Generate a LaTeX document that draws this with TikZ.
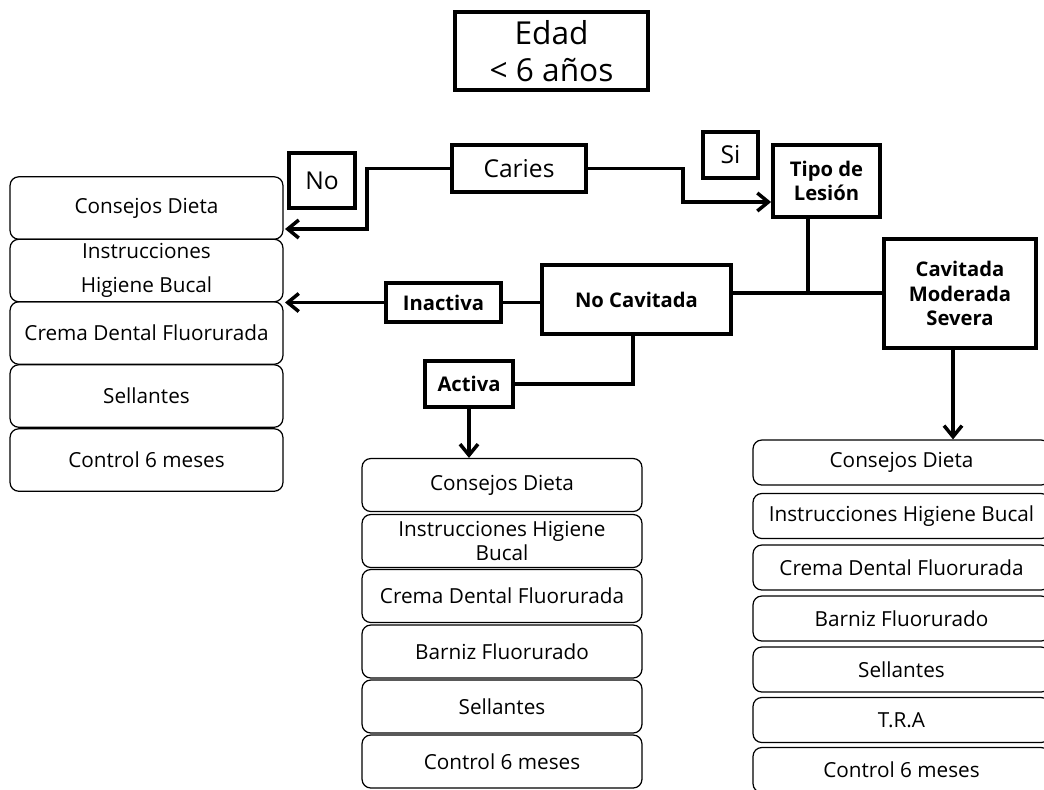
\documentclass[tikz,border=0pt]{standalone}
\usepackage{fontspec}
\setmainfont{Open Sans}
\usetikzlibrary{arrows.meta}

\begin{document}
\begin{tikzpicture}[x=0.02cm,y=-0.02cm,
  caja/.style={draw,line width=2.2pt,align=center,inner sep=2pt,font=\fontsize{14}{16}\selectfont},
  bcaja/.style={caja,font=\bfseries\fontsize{11.5}{14}\selectfont},
  item/.style={draw,line width=0.7pt,rounded corners=5pt,align=center,inner sep=1pt,font=\fontsize{11.8}{13.5}\selectfont},
  litem/.style={item,minimum width=5.46cm,minimum height=1.25cm},
  mitem/.style={item,minimum width=5.6cm,minimum height=1.06cm},
  ritem/.style={item,minimum width=5.94cm,minimum height=0.9cm},
  linea/.style={line width=2pt},
  flecha/.style={linea,-{Straight Barb[length=2.2mm,width=3.6mm]}}]
\clip (0,0) rectangle (1044,789);
% decision boxes
\node[caja,minimum width=3.86cm,minimum height=1.56cm,font=\fontsize{18}{21}\selectfont](edad) at (551.5,51){Edad\\< 6 años};
\node[caja,minimum width=2.68cm,minimum height=0.94cm](caries) at (519,168.5){Caries};
\node[caja,minimum width=1.32cm,minimum height=1.1cm](no) at (322,180.5){No};
\node[caja,minimum width=1.1cm,minimum height=0.92cm](si) at (730.5,155){Si};
\node[bcaja,minimum width=2.14cm,minimum height=1.44cm](tipo) at (826.5,181){Tipo de\\Lesión};
\node[bcaja,minimum width=3.78cm,minimum height=1.38cm](nocav) at (636.5,299.5){No Cavitada};
\node[bcaja,minimum width=2.3cm,minimum height=0.78cm](inact) at (443.5,302.5){Inactiva};
\node[bcaja,minimum width=1.76cm,minimum height=0.92cm](activa) at (469,384){Activa};
\node[bcaja,minimum width=3.04cm,minimum height=2.18cm](cavmod) at (960,293.5){Cavitada\\Moderada\\Severa};
% left list
\node[litem](l1) at (146.5,208){Consejos Dieta};
\node[litem](l2) at (146.5,270.5){Instrucciones\\[6pt]Higiene Bucal};
\node[litem](l3) at (146.5,333){Crema Dental Fluorurada};
\node[litem](l4) at (146.5,396){Sellantes};
\node[litem](l5) at (146.5,460){Control 6 meses};
% middle list
\node[mitem](m1) at (502,485){Consejos Dieta};
\node[mitem](m2) at (502,541){Instrucciones Higiene\\Bucal};
\node[mitem](m3) at (502,596){Crema Dental Fluorurada};
\node[mitem](m4) at (502,651.5){Barniz Fluorurado};
\node[mitem](m5) at (502,706.5){Sellantes};
\node[mitem](m6) at (502,761.5){Control 6 meses};
% right list
\node[ritem](r1) at (901.5,462.5){Consejos Dieta};
\node[ritem](r2) at (901.5,516){Instrucciones Higiene Bucal};
\node[ritem](r3) at (901.5,567.5){Crema Dental Fluorurada};
\node[ritem](r4) at (901.5,618.5){Barniz Fluorurado};
\node[ritem](r5) at (901.5,669.5){Sellantes};
\node[ritem](r6) at (901.5,720){T.R.A};
\node[ritem](r7) at (901.5,770){Control 6 meses};
% connectors
\coordinate (noTip) at (285,229);
\coordinate (inTip) at (285,302.5);
\coordinate (junc) at (808,293);
\draw[flecha] (caries.west) -- (367,168.5) |- (noTip);
\draw[flecha] (caries.east) -- (683,168.5) |- (tipo.west |- 0,202);
\draw[linea] (tipo.south -| junc) -- (junc);
\draw[linea] (nocav.east |- junc) -- (cavmod.west |- junc);
\draw[linea] (nocav.west |- inact) -- (inact.east);
\draw[flecha] (inact.west) -- (inTip);
\draw[linea] (nocav.south -| 633,0) |- (activa.east);
\draw[flecha] (activa.south) -- (activa.south |- m1.north);
\draw[flecha] (cavmod.south -| 953,0) -- (r1.north -| 953,0);
\end{tikzpicture}
\end{document}
